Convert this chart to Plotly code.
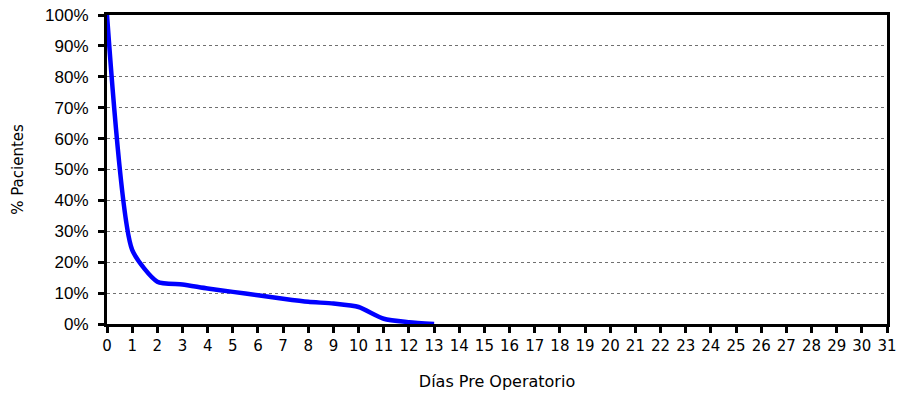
import plotly.graph_objects as go

days = list(range(0, 14))
pct_patients = [100, 24, 13.7, 12.8, 11.5, 10.4, 9.3, 8.2, 7.2, 6.6, 5.5, 1.7, 0.6, 0]
x_ticks = list(range(0, 32))
y_ticks = list(range(0, 101, 10))
y_labels = [f"{v}%" for v in y_ticks]

fig = go.Figure()
fig.add_trace(go.Scatter(
    x=days, y=pct_patients, mode="lines",
    line=dict(color="#0000FF", width=4.5, shape="spline", smoothing=0.6),
    showlegend=False, cliponaxis=False,
))

fig.update_layout(
    width=902, height=396,
    margin=dict(l=107, r=15, t=15, b=72),
    paper_bgcolor="white", plot_bgcolor="white",
    xaxis=dict(
        range=[0, 31], tickmode="array", tickvals=x_ticks,
        ticktext=[str(v) for v in x_ticks],
        showgrid=False, zeroline=False, automargin=False,
        ticklabeloverflow="allow",
        showline=True, linecolor="black", linewidth=3, mirror=True,
        ticks="outside", ticklen=6, tickwidth=3, tickcolor="black",
        tickfont=dict(family="DejaVu Sans", size=15, color="black"),
        title=dict(text="Días Pre Operatorio",
                   font=dict(family="DejaVu Sans", size=16, color="black"),
                   standoff=22),
    ),
    yaxis=dict(
        range=[0, 100], tickmode="array", tickvals=y_ticks, ticktext=y_labels,
        showgrid=True, gridcolor="#707070", gridwidth=1, griddash="dot",
        zeroline=False, automargin=False,
        ticklabeloverflow="allow",
        showline=True, linecolor="black", linewidth=3, mirror=True,
        ticks="outside", ticklen=6, tickwidth=3, tickcolor="black",
        ticklabelstandoff=6,
        tickfont=dict(family="Liberation Sans", size=17, color="black"),
        title=dict(text="% Pacientes",
                   font=dict(family="DejaVu Sans", size=15, color="black"),
                   standoff=18),
    ),
)

# remove the browser's default 8px body margin so the figure fills the window
fig.write_html("out.html", config={"displayModeBar": False},
               post_script="document.body.style.margin='0';")
